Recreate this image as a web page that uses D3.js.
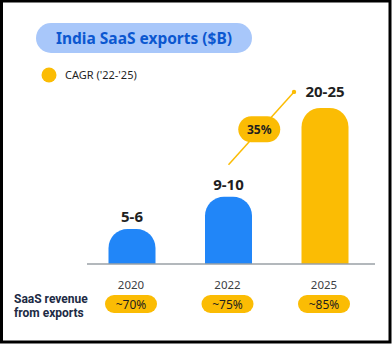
<!DOCTYPE html>
<html>
<head>
<meta charset="utf-8">
<script src="https://cdn.jsdelivr.net/npm/d3@7"></script>
<style>
  html, body { margin: 0; padding: 0; background: #fff; }
  svg { display: block; font-family: "Noto Sans", Roboto, sans-serif; }
</style>
</head>
<body>
<div class="chart-container"></div>
<script>
// data
var years = ['2020', '2022', '2025'];
var exportValues = [5.0, 9.6, 22.3];          // $B, bar heights
var valueLabels = ['5-6', '9-10', '20-25'];
var exportShare = ['~70%', '~75%', '~85%'];
var barColors = ['#2186f8', '#2186f8', '#fbbc04'];
var cagrLabel = '35%';

var width = 392, height = 344;
var yellow = '#fbbc04', ink = '#1f1f1f';

var svg = d3.select('.chart-container').append('svg')
    .attr('width', width)
    .attr('height', height);

// frame
svg.append('rect')
    .attr('x', 1.5).attr('y', 1)
    .attr('width', 388.5).attr('height', 341)
    .attr('fill', '#fff')
    .attr('stroke', '#000')
    .attr('stroke-width', 3);

// title pill
svg.append('rect')
    .attr('x', 36).attr('y', 23)
    .attr('width', 216).attr('height', 30)
    .attr('rx', 15)
    .attr('fill', '#a8c7fa');
svg.append('text')
    .attr('x', 144).attr('y', 44)
    .attr('text-anchor', 'middle')
    .attr('font-size', 15.5)
    .attr('font-weight', 'bold')
    .attr('fill', '#0b57d0')
    .text('India SaaS exports ($B)');

// legend
svg.append('circle')
    .attr('cx', 49).attr('cy', 75).attr('r', 7.5)
    .attr('fill', yellow);
svg.append('text')
    .attr('x', 65).attr('y', 79)
    .attr('font-size', 11)
    .attr('fill', ink)
    .text("CAGR ('22-'25)");

// scales
var x = d3.scalePoint().domain(years).range([132, 325]);
var y = d3.scaleLinear().domain([0, 25]).range([264, 89]);
var barW = 47, r = 19;

function barPath(cx, top, base) {
  var x0 = cx - barW / 2, x1 = cx + barW / 2;
  var rr = Math.min(r, (base - top));
  return 'M' + x0 + ',' + base +
    'L' + x0 + ',' + (top + rr) +
    'A' + rr + ',' + rr + ' 0 0 1 ' + (x0 + rr) + ',' + top +
    'L' + (x1 - rr) + ',' + top +
    'A' + rr + ',' + rr + ' 0 0 1 ' + x1 + ',' + (top + rr) +
    'L' + x1 + ',' + base + 'Z';
}

var data = years.map(function (yr, i) {
  return { year: yr, v: exportValues[i], label: valueLabels[i], share: exportShare[i], color: barColors[i] };
});

svg.selectAll('.bar').data(data).enter().append('path')
    .attr('class', 'bar')
    .attr('d', function (d) { return barPath(x(d.year), y(d.v), y(0)); })
    .attr('fill', function (d) { return d.color; });

// baseline axis
svg.append('line')
    .attr('x1', 87).attr('x2', 375)
    .attr('y1', y(0)).attr('y2', y(0))
    .attr('stroke', '#9aa0a6')
    .attr('stroke-width', 1.5);

// value labels
svg.selectAll('.vlabel').data(data).enter().append('text')
    .attr('class', 'vlabel')
    .attr('x', function (d) { return x(d.year); })
    .attr('y', function (d, i) { return y(d.v) - (i === 2 ? 11 : 7); })
    .attr('text-anchor', 'middle')
    .attr('font-size', 15)
    .attr('font-weight', 'bold')
    .attr('fill', ink)
    .text(function (d) { return d.label; });

// CAGR connector 2022 -> 2025
var p0 = [x('2022'), y(exportValues[1]) - 32];
var p1 = [x('2025') - 31, y(exportValues[2]) - 16];
svg.append('line')
    .attr('x1', p0[0]).attr('y1', p0[1])
    .attr('x2', p1[0]).attr('y2', p1[1])
    .attr('stroke', yellow)
    .attr('stroke-width', 1.5);
svg.append('circle')
    .attr('cx', p1[0]).attr('cy', p1[1]).attr('r', 2.2)
    .attr('fill', yellow);
var mid = [(p0[0] + p1[0]) / 2 - 2, (p0[1] + p1[1]) / 2 + 1];
svg.append('rect')
    .attr('x', mid[0] - 21).attr('y', mid[1] - 13)
    .attr('width', 42).attr('height', 26)
    .attr('rx', 13)
    .attr('fill', yellow);
svg.append('text')
    .attr('x', mid[0]).attr('y', mid[1] + 4.5)
    .attr('text-anchor', 'middle')
    .attr('font-size', 12)
    .attr('font-weight', 'bold')
    .attr('fill', ink)
    .text(cagrLabel);

// year labels
svg.selectAll('.year').data(data).enter().append('text')
    .attr('class', 'year')
    .attr('x', function (d) { return x(d.year) - 1; })
    .attr('y', 289)
    .attr('text-anchor', 'middle')
    .attr('font-size', 11.5)
    .attr('fill', '#3c4043')
    .text(function (d) { return d.year; });

// export share pills
svg.selectAll('.sharepill').data(data).enter().append('rect')
    .attr('class', 'sharepill')
    .attr('x', function (d) { return x(d.year) - 1 - 26; })
    .attr('y', 295)
    .attr('width', 52).attr('height', 18)
    .attr('rx', 9)
    .attr('fill', yellow);
svg.selectAll('.share').data(data).enter().append('text')
    .attr('class', 'share')
    .attr('x', function (d) { return x(d.year) - 1; })
    .attr('y', 308.5)
    .attr('text-anchor', 'middle')
    .attr('font-size', 12)
    .attr('fill', ink)
    .text(function (d) { return d.share; });

// row label
svg.selectAll('.rowlabel').data(['SaaS revenue', 'from exports']).enter().append('text')
    .attr('class', 'rowlabel')
    .attr('x', 14)
    .attr('y', function (d, i) { return 303 + i * 14; })
    .attr('font-family', 'Roboto, sans-serif')
    .attr('font-size', 12)
    .attr('font-weight', 'bold')
    .attr('fill', '#202a44')
    .text(function (d) { return d; });
</script>
</body>
</html>
